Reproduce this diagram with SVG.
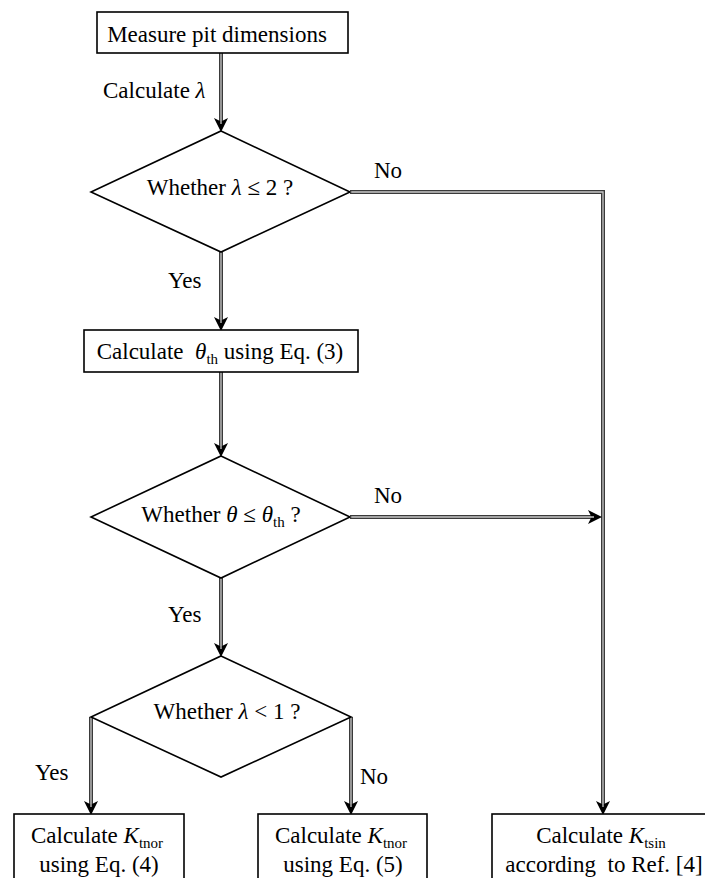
<svg xmlns="http://www.w3.org/2000/svg" width="705" height="878" viewBox="0 0 705 878">
<style>
.box{fill:#fff;stroke:#000;stroke-width:1.6}
.t{font-family:"Liberation Serif","Times New Roman",serif;font-size:23px;fill:#000}
.m{text-anchor:middle}
.i{font-style:italic}
.sub{font-size:15px}
.outer{fill:none;stroke:#3a3a3a;stroke-width:4}
.inner{fill:none;stroke:#c8c8c8;stroke-width:1.3}
</style>
<defs>
<marker id="ah" markerUnits="userSpaceOnUse" markerWidth="14" markerHeight="14" viewBox="0 0 12 12" refX="6" refY="6" orient="auto">
<path d="M0,0 L12,6 L0,12 L3,6 z" fill="#000"/>
</marker>
</defs>
<rect width="705" height="878" fill="#fff"/>
<g id="connectors">
<path class="outer" d="M221,53 V125" marker-end="url(#ah)"/>
<path class="inner" d="M221,53 V124"/>
<path class="outer" d="M221,252 V324" marker-end="url(#ah)"/>
<path class="inner" d="M221,252 V323"/>
<path class="outer" d="M221,372 V450" marker-end="url(#ah)"/>
<path class="inner" d="M221,372 V449"/>
<path class="outer" d="M221,578 V650" marker-end="url(#ah)"/>
<path class="inner" d="M221,578 V649"/>
<path class="outer" d="M350,192 H603 V808" marker-end="url(#ah)"/>
<path class="inner" d="M350,192 H603 V807"/>
<path class="outer" d="M350,517 H595" marker-end="url(#ah)"/>
<path class="inner" d="M350,517 H594"/>
<path class="outer" d="M91,717 V808" marker-end="url(#ah)"/>
<path class="inner" d="M91,717 V807"/>
<path class="outer" d="M351,717 V808" marker-end="url(#ah)"/>
<path class="inner" d="M351,717 V807"/>
<text class="t" x="103" y="98">Calculate <tspan class="i">λ</tspan></text>
<text class="t" x="374" y="178">No</text>
<text class="t" x="168" y="288">Yes</text>
<text class="t" x="374" y="503">No</text>
<text class="t" x="168" y="622">Yes</text>
<text class="t" x="35" y="780">Yes</text>
<text class="t" x="360" y="784">No</text>
</g>
<g id="n1">
<rect class="box" x="97" y="12" width="251" height="41"/>
<text class="t m" x="217" y="42">Measure pit dimensions</text>
</g>
<g id="d1">
<polygon class="box" points="221,131 350,192 221,252 91,192"/>
<text class="t m" x="220" y="195">Whether <tspan class="i">λ</tspan> ≤ 2 ?</text>
</g>
<g id="n2">
<rect class="box" x="84" y="330" width="274" height="42"/>
<text class="t m" x="220" y="359">Calculate&#160; <tspan class="i">θ</tspan><tspan class="sub" dy="5">th</tspan><tspan dy="-5"> using Eq. (3)</tspan></text>
</g>
<g id="d2">
<polygon class="box" points="221,456 350,517 221,578 91,517"/>
<text class="t m" x="221" y="522">Whether <tspan class="i">θ</tspan> ≤ <tspan class="i">θ</tspan><tspan class="sub" dy="5">th</tspan><tspan dy="-5"> ?</tspan></text>
</g>
<g id="d3">
<polygon class="box" points="221,656 351,717 221,777 91,717"/>
<text class="t m" x="227" y="719">Whether <tspan class="i">λ</tspan> &lt; 1 ?</text>
</g>
<g id="n4">
<rect class="box" x="14" y="814" width="170" height="80"/>
<text class="t m" x="97" y="843">Calculate <tspan class="i">K</tspan><tspan class="sub" dy="5">tnor</tspan></text>
<text class="t m" x="99" y="872">using Eq. (4)</text>
</g>
<g id="n5">
<rect class="box" x="258" y="814" width="169" height="80"/>
<text class="t m" x="341" y="843">Calculate <tspan class="i">K</tspan><tspan class="sub" dy="5">tnor</tspan></text>
<text class="t m" x="343" y="872">using Eq. (5)</text>
</g>
<g id="n6">
<rect class="box" x="492" y="814" width="225" height="80"/>
<text class="t m" x="601" y="843">Calculate <tspan class="i">K</tspan><tspan class="sub" dy="5">tsin</tspan></text>
<text class="t m" x="604" y="872">according&#160; to Ref. [4]</text>
</g>
</svg>
